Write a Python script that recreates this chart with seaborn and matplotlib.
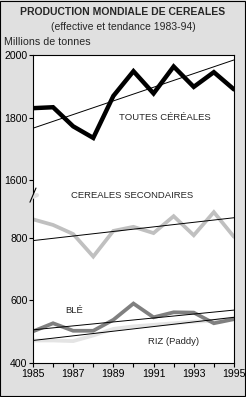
"""Production mondiale de céréales, effective et tendance (axe coupé)."""
import matplotlib
matplotlib.use("Agg")
import matplotlib.pyplot as plt
import numpy as np
import pandas as pd
import seaborn as sns

years = list(range(1985, 1996))
toutes = [1830, 1833, 1772, 1735, 1869, 1948, 1877, 1963, 1898, 1945, 1890]
secondaires = [859, 841, 812, 740, 822, 835, 815, 869, 808, 882, 803]
ble = [501, 527, 503, 503, 538, 590, 546, 562, 561, 527, 540]
riz = [472, 472, 470, 488, 509, 517, 522, 527, 532, 535, 543]

trend_years = [1985, 1995]
trend_toutes = [1766, 1984]
trend_secondaires = [791, 864]
trend_ble = [506, 569]
trend_riz = [472, 546]

# the upper block (1600-2000) is shifted down to sit above the break
OFFSET = 616
yticks_real = [400, 600, 800, 1600, 1800, 2000]

BG = "#e0e0e0"

series = pd.DataFrame({
    "year": years * 4,
    "value": [v - OFFSET for v in toutes] + secondaires + ble + riz,
    "serie": (["toutes"] * 11 + ["secondaires"] * 11
              + ["ble"] * 11 + ["riz"] * 11),
})
trends = pd.DataFrame({
    "year": trend_years * 4,
    "value": [v - OFFSET for v in trend_toutes] + trend_secondaires
             + trend_ble + trend_riz,
    "serie": (["toutes"] * 2 + ["secondaires"] * 2
              + ["ble"] * 2 + ["riz"] * 2),
})

sns.set_style("white")
plt.rcParams["font.family"] = ["Liberation Sans", "DejaVu Sans"]

fig = plt.figure(figsize=(2.46, 3.97), dpi=100, facecolor=BG)
ax = fig.add_axes([0.134, 0.0856, 0.817, 0.776])
ax.set_facecolor("white")

palette = {"toutes": "black", "secondaires": "#c0c0c0",
           "ble": "#808080", "riz": "#e4e4e4"}
widths = {"toutes": 3.2, "secondaires": 2.7, "ble": 2.7, "riz": 2.7}
for name in ["riz", "ble", "secondaires", "toutes"]:
    sns.lineplot(data=series[series["serie"] == name], x="year", y="value",
                 color=palette[name], lw=widths[name], ax=ax,
                 legend=False, solid_joinstyle="miter")
for name in ["riz", "ble", "secondaires", "toutes"]:
    sns.lineplot(data=trends[trends["serie"] == name], x="year", y="value",
                 color="black", lw=0.7, ax=ax, legend=False)

ax.set_xlim(1985, 1995)
ax.set_ylim(400, 2000 - OFFSET)
ax.set_xticks(years)
ax.set_xticklabels([str(y) if (y - 1985) % 2 == 0 else "" for y in years])
ax.set_yticks([v - OFFSET if v > 1000 else v for v in yticks_real])
ax.set_yticklabels([str(v) for v in yticks_real])
ax.set_xlabel("")
ax.set_ylabel("")
ax.tick_params(axis="both", direction="out", length=3, width=0.8,
               labelsize=7.6, pad=1, colors="black", left=True, bottom=True)
for sp in ax.spines.values():
    sp.set_color("black")
    sp.set_linewidth(0.8)

# break on the left axis
ax.plot([-0.02, 0.02], [0.535, 0.545], transform=ax.transAxes,
        color=BG, lw=3, clip_on=False, zorder=5)
ax.plot([-0.015, 0.015], [0.522, 0.568], transform=ax.transAxes,
        color="black", lw=0.8, clip_on=False, zorder=6)

ax.text(1989.3, 1800 - OFFSET, "TOUTES CÉRÉALES", fontsize=6.8, va="center")
ax.text(1986.9, 935, "CEREALES SECONDAIRES", fontsize=6.8, va="center")
ax.text(1986.6, 567, "BLÉ", fontsize=6.8, va="center")
ax.text(1990.7, 468, "RIZ (Paddy)", fontsize=6.8, va="center")

fig.text(0.5, 0.970, "PRODUCTION MONDIALE DE CEREALES", ha="center",
         va="center", fontsize=7.5, fontweight="bold")
fig.text(0.5, 0.932, "(effective et tendance 1983-94)", ha="center",
         va="center", fontsize=7.5)
fig.text(0.016, 0.894, "Millions de tonnes", ha="left", va="center",
         fontsize=7.7)

fig.patches.append(plt.Rectangle((0.002, 0.002), 0.995, 0.995,
                                 transform=fig.transFigure, fill=False,
                                 edgecolor="black", lw=0.8))

fig.savefig("out.png", dpi=100, facecolor=BG)
